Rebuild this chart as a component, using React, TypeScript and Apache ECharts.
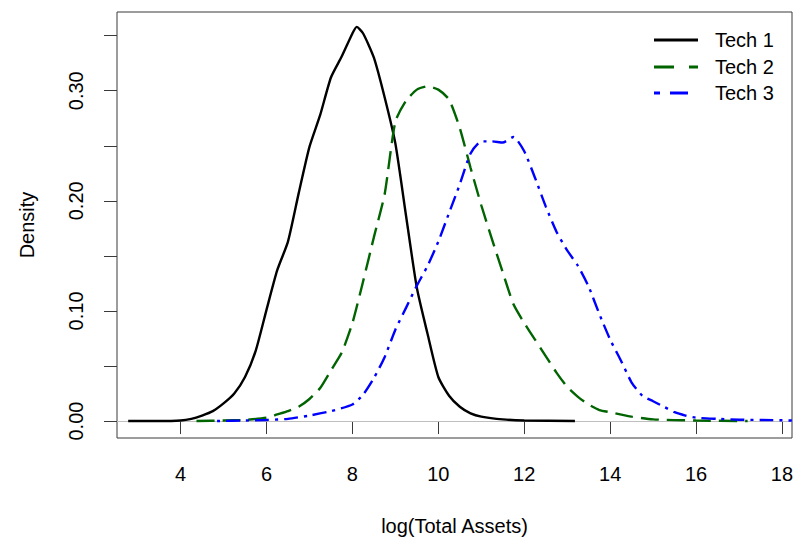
import React, { useEffect, useRef } from "react";
import * as echarts from "echarts";

// log(Total Assets) grid positions and density readings for each technology
const tech1X = [2.78, 3.5, 4.0, 4.25, 4.5, 4.75, 5.0, 5.25, 5.5, 5.75, 6.0, 6.25, 6.5, 6.75, 7.0, 7.25, 7.5, 7.75, 8.0, 8.1, 8.25, 8.5, 8.75, 9.0, 9.25, 9.5, 9.75, 10.0, 10.25, 10.5, 10.75, 11.0, 11.5, 12.0, 13.18];
const tech1Y = [0, 0, 0.0005, 0.002, 0.005, 0.009, 0.016, 0.025, 0.040, 0.064, 0.101, 0.137, 0.163, 0.207, 0.249, 0.278, 0.312, 0.331, 0.352, 0.358, 0.352, 0.330, 0.294, 0.252, 0.186, 0.121, 0.079, 0.040, 0.023, 0.013, 0.007, 0.004, 0.0015, 0.0005, 0];

const tech2X = [4.37, 5.0, 5.5, 6.0, 6.25, 6.5, 6.75, 7.0, 7.25, 7.5, 7.75, 8.0, 8.25, 8.5, 8.75, 9.0, 9.25, 9.5, 9.75, 10.0, 10.25, 10.5, 10.75, 11.0, 11.25, 11.5, 11.75, 12.0, 12.25, 12.5, 12.75, 13.0, 13.25, 13.5, 13.75, 14.0, 14.5, 15.0, 16.0, 17.2];
const tech2Y = [0, 0.0005, 0.001, 0.003, 0.006, 0.009, 0.013, 0.020, 0.030, 0.046, 0.062, 0.089, 0.127, 0.167, 0.206, 0.272, 0.291, 0.301, 0.304, 0.301, 0.292, 0.266, 0.230, 0.196, 0.165, 0.135, 0.106, 0.089, 0.074, 0.059, 0.044, 0.031, 0.022, 0.015, 0.010, 0.008, 0.004, 0.0015, 0.0005, 0];

const tech3X = [4.85, 5.5, 6.0, 6.5, 7.0, 7.5, 8.0, 8.25, 8.5, 8.75, 9.0, 9.25, 9.5, 9.75, 10.0, 10.25, 10.5, 10.75, 11.0, 11.25, 11.5, 11.75, 12.0, 12.25, 12.5, 12.75, 13.0, 13.25, 13.5, 13.75, 14.0, 14.25, 14.5, 14.75, 15.0, 15.25, 15.5, 15.75, 16.0, 16.5, 17.0, 17.5, 18.23];
const tech3Y = [0, 0.0005, 0.001, 0.002, 0.005, 0.009, 0.015, 0.024, 0.039, 0.058, 0.083, 0.103, 0.123, 0.141, 0.163, 0.189, 0.215, 0.243, 0.254, 0.254, 0.253, 0.258, 0.245, 0.221, 0.195, 0.172, 0.155, 0.141, 0.122, 0.097, 0.074, 0.055, 0.035, 0.023, 0.018, 0.013, 0.008, 0.005, 0.003, 0.002, 0.0012, 0.001, 0.0005];

const seriesNames = ["Tech 1", "Tech 2", "Tech 3"];
const xTicks = [4, 6, 8, 10, 12, 14, 16, 18];
const yLabelTicks = [0, 0.1, 0.2, 0.3];
const yMinorTicks = [0, 0.05, 0.1, 0.15, 0.2, 0.25, 0.3, 0.35];

const FONT = "'Liberation Sans', Arial, sans-serif";
const FS = 20;
const COLORS = ["#000000", "#006400", "#0000FF"];
const DASHES: any[] = ["solid", [18, 8], [3, 6, 14, 6]];
const LEGEND_DASHES: any[] = [null, [20, 15], [6, 10, 18, 10]];

function zip(xs: number[], ys: number[]) {
  return xs.map((x, i) => [x, ys[i]]);
}

export default function App() {
  const ref = useRef<HTMLDivElement>(null);
  useEffect(() => {
    if (!ref.current) return;
    const chart = echarts.init(ref.current, null, { renderer: "svg" });
    const data = [zip(tech1X, tech1Y), zip(tech2X, tech2Y), zip(tech3X, tech3Y)];
    const legendRows = [40, 67, 93];
    const graphics: any[] = [];
    seriesNames.forEach((name, i) => {
      graphics.push({
        type: "line",
        shape: { x1: 654, y1: legendRows[i], x2: 698, y2: legendRows[i] },
        style: { stroke: COLORS[i], lineWidth: 3, lineDash: LEGEND_DASHES[i] },
        silent: true,
      });
      graphics.push({
        type: "text",
        x: 715,
        y: legendRows[i],
        style: {
          text: name,
          fill: "#000",
          font: `${FS}px ${FONT}`,
          verticalAlign: "middle",
          align: "left",
        },
        silent: true,
      });
    });
    chart.setOption({
      animation: false,
      backgroundColor: "#ffffff",
      textStyle: { fontFamily: FONT },
      grid: {
        left: 117,
        right: 6,
        top: 12,
        bottom: 111,
        show: true,
        borderColor: "#3a3a3a",
        borderWidth: 1,
        backgroundColor: "transparent",
      },
      xAxis: {
        type: "value",
        min: 2.52,
        max: 18.233,
        name: "log(Total Assets)",
        nameLocation: "middle",
        nameGap: 78,
        nameTextStyle: { fontSize: FS, color: "#000", fontFamily: FONT },
        axisLine: { show: false },
        splitLine: { show: false },
        axisTick: {
          show: true,
          inside: false,
          length: 13,
          customValues: xTicks,
          lineStyle: { color: "#3a3a3a", width: 1 },
        },
        axisLabel: {
          customValues: xTicks,
          margin: 26,
          fontSize: FS,
          color: "#000",
          fontFamily: FONT,
        },
      },
      yAxis: {
        type: "value",
        min: -0.0154,
        max: 0.3715,
        name: "Density",
        nameLocation: "middle",
        nameGap: 80,
        nameRotate: 90,
        nameTextStyle: { fontSize: FS, color: "#000", fontFamily: FONT },
        axisLine: { show: false },
        splitLine: { show: false },
        axisTick: {
          show: true,
          inside: false,
          length: 13,
          customValues: yMinorTicks,
          lineStyle: { color: "#3a3a3a", width: 1 },
        },
        axisLabel: {
          customValues: yLabelTicks,
          rotate: 90,
          margin: 31,
          fontSize: FS,
          color: "#000",
          fontFamily: FONT,
          formatter: (v: number) => v.toFixed(2),
        },
      },
      series: seriesNames.map((name, i) => ({
        name,
        type: "line",
        data: data[i],
        showSymbol: false,
        symbol: "none",
        smooth: 0.2,
        silent: true,
        z: 3 + i,
        lineStyle: { color: COLORS[i], width: 2.4, type: DASHES[i], cap: "butt" },
        markLine:
          i === 0
            ? {
                silent: true,
                symbol: "none",
                label: { show: false },
                lineStyle: { color: "#BEBEBE", width: 1, type: "solid" },
                data: [{ yAxis: 0 }],
                z: 1,
              }
            : undefined,
      })),
      graphic: graphics,
    });
    return () => chart.dispose();
  }, []);
  return (
    <div
      ref={ref}
      style={{ position: "fixed", left: 0, top: 0, width: 798, height: 549, background: "#fff" }}
    />
  );
}
